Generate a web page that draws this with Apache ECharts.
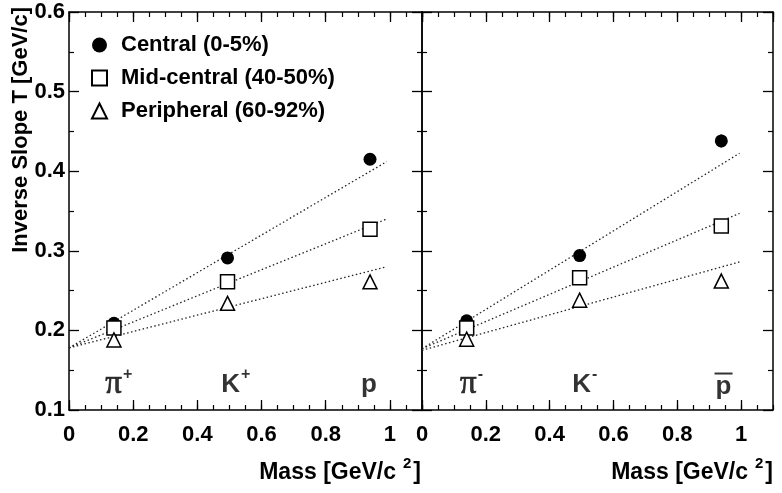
<!DOCTYPE html>
<html>
<head>
<meta charset="utf-8">
<script src="https://cdn.jsdelivr.net/npm/echarts@6/dist/echarts.min.js"></script>
<style>
  html, body { margin: 0; padding: 0; background: #fff; }
  #main { width: 782px; height: 493px; }
</style>
</head>
<body>
<div id="main"></div>
<script>
// particle masses [GeV/c^2]: pi, K, p
var masses = [0.140, 0.494, 0.938]

// left panel: positive particles
var posCentral = [0.209, 0.291, 0.415]
var posCentralErr = [0.002, 0.002, 0.006]
var posMid = [0.203, 0.261, 0.327]
var posPeri = [0.188, 0.234, 0.261]

// right panel: negative particles
var negCentral = [0.212, 0.294, 0.438]
var negCentralErr = [0.002, 0.002, 0.008]
var negMid = [0.203, 0.266, 0.331]
var negPeri = [0.189, 0.238, 0.262]

// dotted fit lines, two end points each [mass, T]
var posFitCentral = [[0, 0.178], [0.99, 0.412]]
var posFitMid = [[0, 0.178], [0.99, 0.340]]
var posFitPeri = [[0, 0.178], [0.99, 0.280]]
var negFitCentral = [[0, 0.177], [0.995, 0.4225]]
var negFitMid = [[0, 0.177], [0.995, 0.347]]
var negFitPeri = [[0, 0.175], [0.995, 0.286]]

// particle names placed in the lower part of each panel
var posLabels = [['pi', '+', 0.155], ['K', '+', 0.52], ['p', '', 0.935]]
var negLabels = [['pi', '-', 0.155], ['K', '-', 0.51], ['pbar', '', 0.945]]
var labelY = 0.132

var seriesNames = ['Central (0-5%)', 'Mid-central (40-50%)', 'Peripheral (60-92%)']

var font = 'Liberation Sans'
var myChart = echarts.init(document.getElementById('main'))

function pts (vals) {
  return vals.map(function (v, i) { return [masses[i], v] })
}
function errPts (vals, errs) {
  return vals.map(function (v, i) { return [masses[i], v, errs[i]] })
}

function majorX (grid, pos, labels) {
  return {
    type: 'value', gridIndex: grid, position: pos, min: 0, max: 1.1, interval: 0.2,
    axisLine: { show: true, onZero: false, lineStyle: { color: '#000', width: 1.5 } },
    axisTick: { show: true, inside: true, length: 10, lineStyle: { color: '#000', width: 1.3 } },
    axisLabel: {
      show: labels, margin: 14, showMaxLabel: false,
      color: '#000', fontFamily: font, fontWeight: 'bold', fontSize: 22,
      formatter: function (v) { return v > 1.05 ? '' : String(Math.round(v * 10) / 10) }
    },
    splitLine: { show: false }
  }
}
function minorX (grid, pos) {
  return {
    type: 'value', gridIndex: grid, position: pos, min: 0, max: 1.1, interval: 0.05,
    axisLine: { show: false },
    axisTick: { show: true, inside: true, length: 5, lineStyle: { color: '#000', width: 1.2 } },
    axisLabel: { show: false },
    splitLine: { show: false }
  }
}
function yAx (grid, pos, labels) {
  return {
    type: 'value', gridIndex: grid, position: pos, min: 0.1, max: 0.6, interval: 0.1,
    axisLine: { show: true, onZero: false, lineStyle: { color: '#000', width: 1.5 } },
    axisTick: { show: true, inside: true, length: 10, lineStyle: { color: '#000', width: 1.3 } },
    minorTick: { show: true, splitNumber: 2, length: 5, lineStyle: { color: '#000', width: 1.2 } },
    axisLabel: {
      show: labels, margin: 4, color: '#000', fontFamily: font, fontWeight: 'bold', fontSize: 22,
      formatter: function (v) { return v.toFixed(1) }
    },
    splitLine: { show: false },
    minorSplitLine: { show: false }
  }
}

function fitLine (data, xi, yi) {
  return {
    type: 'line', xAxisIndex: xi, yAxisIndex: yi, data: data, symbol: 'none', silent: true,
    lineStyle: { color: '#222', width: 1.3, type: [1.5, 2.5] }, z: 1
  }
}
function points (name, data, xi, yi, symbol, size, filled) {
  return {
    type: 'scatter', name: name, xAxisIndex: xi, yAxisIndex: yi, data: pts(data),
    symbol: symbol, symbolSize: size, z: 3,
    itemStyle: filled
      ? { color: '#000', opacity: 1 }
      : { color: '#fff', borderColor: '#000', borderWidth: 1.5, opacity: 1 }
  }
}
function errBars (vals, errs, xi, yi) {
  return {
    type: 'custom', xAxisIndex: xi, yAxisIndex: yi, data: errPts(vals, errs), silent: true, z: 2,
    renderItem: function (params, api) {
      var lo = api.coord([api.value(0), api.value(1) - api.value(2)])
      var hi = api.coord([api.value(0), api.value(1) + api.value(2)])
      return {
        type: 'line',
        shape: { x1: lo[0], y1: lo[1], x2: hi[0], y2: hi[1] },
        style: { stroke: '#000', lineWidth: 2 }
      }
    }
  }
}

// superscripts are lifted with bottom padding (tokens are centred on the line)
var particleRich = {
  pi: { fontFamily: 'Liberation Serif', fontSize: 33, color: '#000', textBorderColor: '#000', textBorderWidth: 0.7 },
  K: { fontFamily: font, fontWeight: 'bold', fontSize: 26, color: '#000' },
  p: { fontFamily: font, fontWeight: 'bold', fontSize: 26, color: '#000', lineHeight: 22 },
  sup: { fontFamily: font, fontWeight: 'bold', fontSize: 16, color: '#000', lineHeight: 14, padding: [0, 0, 20, 1] },
  bar: { width: 18, height: 2, lineHeight: 4, fontSize: 2, backgroundColor: '#000' }
}
function particleLabels (list, xi, yi) {
  return {
    type: 'scatter', xAxisIndex: xi, yAxisIndex: yi, symbolSize: 0, silent: true,
    data: list.map(function (d) { return { value: [d[2], labelY], kind: d[0], sign: d[1] } }),
    label: {
      show: true, position: 'inside', rich: particleRich,
      formatter: function (p) {
        var k = p.data.kind
        if (k === 'pi') return '{pi|\u03c0}{sup|' + p.data.sign + '}'
        if (k === 'K') return '{K|K}{sup|' + p.data.sign + '}'
        if (k === 'pbar') return '{bar| }\n{p|p}'
        return '{p|p}'
      }
    }
  }
}

var axisTitleRich = {
  a: { fontFamily: font, fontWeight: 'bold', fontSize: 23, color: '#000' },
  s: { fontFamily: font, fontWeight: 'bold', fontSize: 15, color: '#000', lineHeight: 15, padding: [0, 2, 19, 7] }
}

var option = {
  backgroundColor: '#fff',
  animation: false,
  grid: [
    { left: 69, top: 12, width: 353, height: 398 },
    { left: 422, top: 12, width: 351, height: 398 },
    { left: 69, top: 12, width: 353, height: 398 },
    { left: 422, top: 12, width: 351, height: 398 }
  ],
  xAxis: [
    majorX(0, 'bottom', true), majorX(0, 'top', false),
    majorX(1, 'bottom', true), majorX(1, 'top', false),
    minorX(2, 'bottom'), minorX(2, 'top'),
    minorX(3, 'bottom'), minorX(3, 'top')
  ],
  yAxis: [
    yAx(0, 'left', true), yAx(0, 'right', false),
    yAx(1, 'left', false), yAx(1, 'right', false),
    { type: 'value', gridIndex: 2, min: 0.1, max: 0.6, show: false },
    { type: 'value', gridIndex: 3, min: 0.1, max: 0.6, show: false }
  ],
  legend: {
    data: seriesNames,
    orient: 'vertical', left: 86, top: 29, itemWidth: 15, itemHeight: 15, itemGap: 11,
    selectedMode: false,
    textStyle: { fontFamily: font, fontWeight: 'bold', fontSize: 22, color: '#000', padding: [0, 0, 0, 9] }
  },
  graphic: [
    {
      type: 'text', x: 21, y: 7, rotation: Math.PI / 2,
      style: { text: 'Inverse Slope T [GeV/c]', font: 'bold 22px "Liberation Sans"', fill: '#000', align: 'right', verticalAlign: 'middle' }
    },
    {
      type: 'text', x: 421, y: 473,
      style: { text: '{a|Mass [GeV/c}{s|2}{a|]}', rich: axisTitleRich, align: 'right', verticalAlign: 'middle' }
    },
    {
      type: 'text', x: 773, y: 473,
      style: { text: '{a|Mass [GeV/c}{s|2}{a|]}', rich: axisTitleRich, align: 'right', verticalAlign: 'middle' }
    }
  ],
  series: [
    fitLine(posFitCentral, 0, 0), fitLine(posFitMid, 0, 0), fitLine(posFitPeri, 0, 0),
    fitLine(negFitCentral, 2, 2), fitLine(negFitMid, 2, 2), fitLine(negFitPeri, 2, 2),
    errBars(posCentral, posCentralErr, 0, 0),
    errBars(negCentral, negCentralErr, 2, 2),
    points(seriesNames[0], posCentral, 0, 0, 'circle', 13, true),
    points(seriesNames[1], posMid, 0, 0, 'rect', 14, false),
    points(seriesNames[2], posPeri, 0, 0, 'triangle', 14, false),
    points(seriesNames[0], negCentral, 2, 2, 'circle', 13, true),
    points(seriesNames[1], negMid, 2, 2, 'rect', 14, false),
    points(seriesNames[2], negPeri, 2, 2, 'triangle', 14, false),
    particleLabels(posLabels, 0, 0),
    particleLabels(negLabels, 2, 2)
  ]
}

myChart.setOption(option, true)
</script>
</body>
</html>
